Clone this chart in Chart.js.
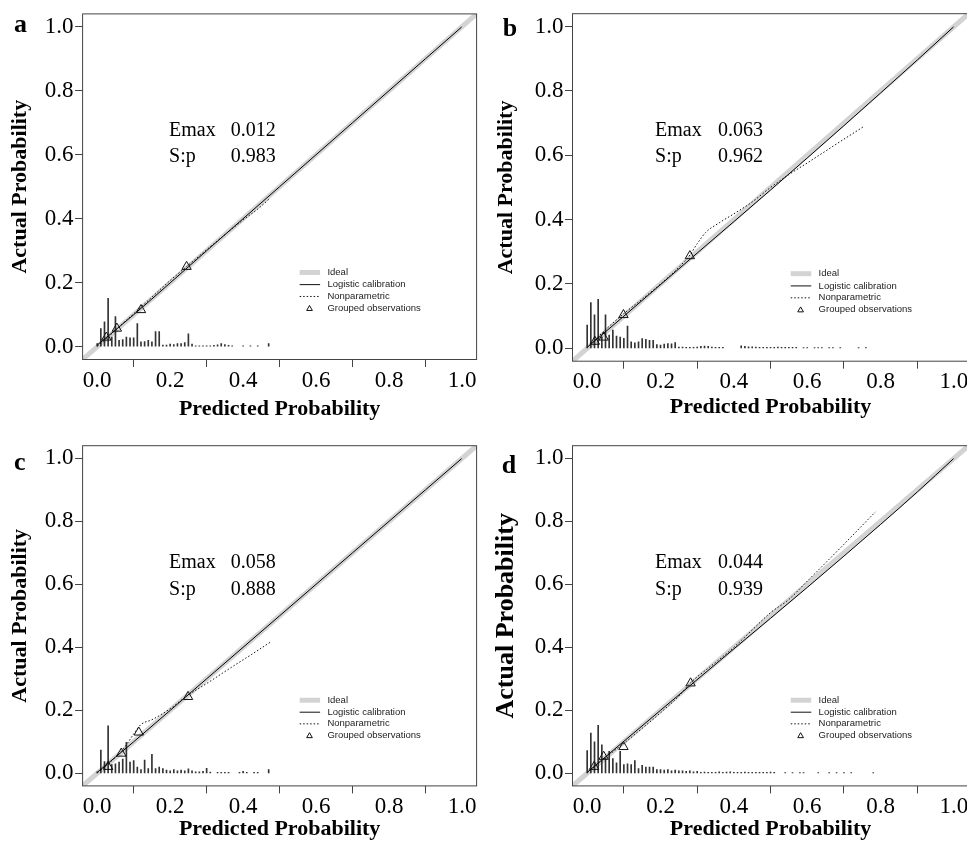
<!DOCTYPE html>
<html>
<head>
<meta charset="utf-8">
<script src="https://cdn.jsdelivr.net/npm/chart.js@4.4.1/dist/chart.umd.min.js"></script>
<style>
  html, body { margin: 0; padding: 0; background: #fff; width: 967px; height: 844px; overflow: hidden; }
  .panel { position: absolute; }
</style>
</head>
<body>
<div class="panel" style="left:0;top:0"><canvas id="pa" width="483" height="422"></canvas></div>
<div class="panel" style="left:483px;top:0"><canvas id="pb" width="492" height="422"></canvas></div>
<div class="panel" style="left:0;top:422px"><canvas id="pc" width="483" height="422"></canvas></div>
<div class="panel" style="left:483px;top:422px"><canvas id="pd" width="492" height="422"></canvas></div>
<script>
// --- données ---
const tickValues = [0, 0.2, 0.4, 0.6, 0.8, 1.0];
const emaxValues = [0.012, 0.063, 0.058, 0.044];
const spValues = [0.983, 0.962, 0.888, 0.939];
const idealLine = [[-0.04, -0.04], [1.04, 1.04]];

// courbes de calibration logistique
const logisticA = [[0.001, 0.006], [0.1, 0.1], [0.3, 0.3], [0.5, 0.5], [0.7, 0.7], [0.9, 0.9], [0.999, 0.999]];
const logisticB = [[0.001, 0.004], [0.1, 0.1], [0.3, 0.296], [0.5, 0.492], [0.7, 0.692], [0.9, 0.896], [0.999, 0.999]];
const logisticC = [[0.001, 0.004], [0.1, 0.1], [0.3, 0.3], [0.5, 0.5], [0.7, 0.7], [0.9, 0.9], [0.999, 0.999]];
const logisticD = [[0.001, 0.004], [0.2, 0.2], [0.4, 0.395], [0.6, 0.59], [0.8, 0.79], [0.9, 0.893], [0.999, 0.999]];

// courbes non paramétriques (pointillés)
const loessA = [[0.001, 0.002], [0.03, 0.03], [0.06, 0.062], [0.1, 0.103], [0.15, 0.155], [0.2, 0.207], [0.25, 0.255], [0.3, 0.303], [0.35, 0.35], [0.4, 0.396], [0.44, 0.43], [0.473, 0.463]];
const loessB = [[0.001, 0.003], [0.05, 0.058], [0.1, 0.108], [0.15, 0.153], [0.2, 0.2], [0.25, 0.252], [0.28, 0.29], [0.3, 0.325], [0.323, 0.36], [0.36, 0.39], [0.4, 0.418], [0.45, 0.455], [0.5, 0.5], [0.55, 0.54], [0.6, 0.576], [0.65, 0.613], [0.7, 0.65], [0.755, 0.69]];
const loessC = [[0.001, 0.002], [0.03, 0.03], [0.065, 0.068], [0.08, 0.09], [0.1, 0.125], [0.12, 0.155], [0.15, 0.17], [0.2, 0.205], [0.245, 0.245], [0.3, 0.285], [0.37, 0.338], [0.42, 0.375], [0.477, 0.418]];
const loessD = [[0.001, 0.002], [0.05, 0.05], [0.1, 0.095], [0.15, 0.143], [0.2, 0.192], [0.25, 0.245], [0.28, 0.285], [0.35, 0.352], [0.4, 0.4], [0.45, 0.455], [0.5, 0.51], [0.55, 0.552], [0.6, 0.61], [0.65, 0.668], [0.7, 0.727], [0.786, 0.83]];

// observations groupées (triangles)
const groupsA = [[0.025, 0.029], [0.054, 0.057], [0.120, 0.115], [0.245, 0.250]];
const groupsB = [[0.021, 0.021], [0.045, 0.034], [0.099, 0.104], [0.280, 0.287]];
const groupsC = [[0.030, 0.021], [0.066, 0.063], [0.114, 0.130], [0.249, 0.243]];
const groupsD = [[0.019, 0.021], [0.045, 0.053], [0.099, 0.084], [0.282, 0.286]];

// histogrammes en pics
const spikeXA = [0.00, 0.01, 0.02, 0.03, 0.04, 0.05, 0.06, 0.07, 0.08, 0.09, 0.10, 0.11, 0.12, 0.13, 0.14, 0.15, 0.16, 0.17, 0.18, 0.19, 0.20, 0.21, 0.22, 0.23, 0.24, 0.25, 0.26, 0.27, 0.28, 0.29, 0.30, 0.31, 0.32, 0.33, 0.34, 0.35, 0.36, 0.37, 0.40, 0.42, 0.44, 0.47];
const spikeHA = [0.010, 0.057, 0.078, 0.151, 0.030, 0.094, 0.020, 0.022, 0.030, 0.028, 0.028, 0.072, 0.015, 0.016, 0.020, 0.015, 0.047, 0.047, 0.005, 0.005, 0.008, 0.007, 0.010, 0.010, 0.013, 0.040, 0.008, 0.003, 0.003, 0.003, 0.003, 0.003, 0.004, 0.006, 0.010, 0.007, 0.004, 0.003, 0.003, 0.003, 0.003, 0.010];

const spikeXB = [0.00, 0.01, 0.02, 0.03, 0.04, 0.05, 0.06, 0.07, 0.08, 0.09, 0.10, 0.11, 0.12, 0.13, 0.14, 0.15, 0.16, 0.17, 0.18, 0.19, 0.20, 0.21, 0.22, 0.23, 0.24,
  0.25, 0.26, 0.27, 0.28, 0.29, 0.30, 0.31, 0.32, 0.33, 0.34, 0.35, 0.36, 0.37,
  0.42, 0.43, 0.44, 0.45, 0.46, 0.47, 0.48, 0.49, 0.50, 0.51, 0.52, 0.53, 0.54, 0.55, 0.56, 0.57,
  0.59, 0.60, 0.62, 0.63, 0.64, 0.66, 0.67, 0.69, 0.74, 0.76];
const spikeHB = [0.072, 0.142, 0.104, 0.152, 0.036, 0.104, 0.041, 0.057, 0.038, 0.035, 0.031, 0.069, 0.020, 0.017, 0.020, 0.030, 0.028, 0.025, 0.025, 0.012, 0.010, 0.013, 0.015, 0.014, 0.018,
  0.004, 0.004, 0.003, 0.003, 0.003, 0.004, 0.006, 0.007, 0.006, 0.004, 0.003, 0.003, 0.003,
  0.008, 0.006, 0.005, 0.005, 0.004, 0.003, 0.003, 0.003, 0.003, 0.003, 0.004, 0.003, 0.003, 0.003, 0.003, 0.003,
  0.002, 0.002, 0.002, 0.002, 0.002, 0.002, 0.002, 0.002, 0.002, 0.002];

const spikeXC = [0.00, 0.01, 0.02, 0.03, 0.04, 0.05, 0.06, 0.07, 0.08, 0.09, 0.10, 0.11, 0.12, 0.13, 0.14, 0.15, 0.16, 0.17, 0.18, 0.19, 0.20, 0.21, 0.22, 0.23, 0.24, 0.25, 0.26, 0.27, 0.28, 0.29, 0.30, 0.31,
  0.33, 0.34, 0.35, 0.36, 0.39, 0.40, 0.41, 0.43, 0.44, 0.47];
const spikeHC = [0.005, 0.074, 0.037, 0.151, 0.028, 0.030, 0.036, 0.045, 0.098, 0.036, 0.040, 0.020, 0.012, 0.042, 0.015, 0.060, 0.015, 0.020, 0.015, 0.010, 0.008, 0.012, 0.008, 0.010, 0.008, 0.014, 0.008, 0.005, 0.005, 0.006, 0.016, 0.004,
  0.003, 0.003, 0.003, 0.003, 0.003, 0.006, 0.003, 0.003, 0.003, 0.012];

const spikeXD = [0.00, 0.01, 0.02, 0.03, 0.04, 0.05, 0.06, 0.07, 0.08, 0.09, 0.10, 0.11, 0.12, 0.13, 0.14, 0.15, 0.16, 0.17, 0.18, 0.19, 0.20, 0.21, 0.22, 0.23, 0.24, 0.25, 0.26, 0.27, 0.28, 0.29, 0.30,
  0.31, 0.32, 0.33, 0.34, 0.35, 0.36, 0.37, 0.38, 0.39, 0.40, 0.41, 0.42, 0.43, 0.44, 0.45, 0.46, 0.47, 0.48, 0.49, 0.50, 0.51,
  0.54, 0.56, 0.58, 0.59, 0.63, 0.66, 0.68, 0.70, 0.72, 0.78];
const spikeHD = [0.072, 0.128, 0.100, 0.152, 0.090, 0.049, 0.070, 0.047, 0.033, 0.070, 0.028, 0.030, 0.028, 0.040, 0.015, 0.025, 0.020, 0.020, 0.020, 0.012, 0.012, 0.010, 0.012, 0.008, 0.010, 0.008, 0.008, 0.006, 0.008, 0.005, 0.006,
  0.003, 0.004, 0.003, 0.003, 0.003, 0.005, 0.003, 0.004, 0.005, 0.003, 0.003, 0.003, 0.004, 0.003, 0.003, 0.003, 0.003, 0.003, 0.003, 0.004, 0.003,
  0.002, 0.002, 0.002, 0.002, 0.002, 0.002, 0.002, 0.002, 0.002, 0.002];

const SERIF = '"Liberation Serif", "Times New Roman", serif';
const SANS = '"Liberation Sans", Arial, sans-serif';
const IDEAL_GREY = '#d3d3d3';

// --- mise en page de chaque panneau (pixels du canvas) ---
const panels = [
  { id: 'pa', letter: 'a', idx: 0, logistic: logisticA, loess: loessA, groups: groupsA, spikeX: spikeXA, spikeH: spikeHA,
    padTop: 13.9, padRight: 2.3, yW: 82.6, xH: 62.5, yTitlePad: 9.1, yTitleSize: 22, xTitlePad: 1.7,
    letterPos: [14, 31.7], statX: [0.197, 0.366], statY: [0.658, 0.578] },
  { id: 'pb', letter: 'b', idx: 1, logistic: logisticB, loess: loessB, groups: groupsB, spikeX: spikeXB, spikeH: spikeHB,
    padTop: 13.7, padRight: 2.9, yW: 89.5, xH: 60.8, yTitlePad: 12.6, yTitleSize: 22, xTitlePad: 3.4,
    letterPos: [19.7, 36], statX: [0.185, 0.357], statY: [0.66, 0.58] },
  { id: 'pc', letter: 'c', idx: 2, logistic: logisticC, loess: loessC, groups: groupsC, spikeX: spikeXC, spikeH: spikeHC,
    padTop: 23.7, padRight: 2.3, yW: 82.6, xH: 58.1, yTitlePad: 9.1, yTitleSize: 22, xTitlePad: 3.7,
    letterPos: [14, 48], statX: [0.197, 0.366], statY: [0.651, 0.566] },
  { id: 'pd', letter: 'd', idx: 3, logistic: logisticD, loess: loessD, groups: groupsD, spikeX: spikeXD, spikeH: spikeHD,
    padTop: 23.7, padRight: 2.9, yW: 89.5, xH: 58.1, yTitlePad: 9.8, yTitleSize: 26, xTitlePad: 3.7,
    letterPos: [18.7, 51], statX: [0.185, 0.357], statY: [0.651, 0.566] }
];

// position de la légende (coordonnées des axes)
const legendRowsY = [0.232, 0.194, 0.157, 0.12];
const legendLabels = ['Ideal', 'Logistic calibration', 'Nonparametric', 'Grouped observations'];

function pts(arr) { return arr.map(p => ({ x: p[0], y: p[1] })); }
function spikes(xs, hs) { return xs.map((x, i) => ({ x: x, y: hs[i] })); }

// cadre, lettre du panneau, Emax / S:p et légende
const panelDecor = {
  id: 'panelDecor',
  afterDraw(chart, args, opts) {
    const { ctx, chartArea: a, scales: { x, y } } = chart;
    ctx.save();
    ctx.strokeStyle = '#444';
    ctx.lineWidth = 1;
    ctx.strokeRect(a.left, a.top, a.right - a.left, a.bottom - a.top);

    ctx.fillStyle = '#000';
    ctx.textAlign = 'left';
    ctx.textBaseline = 'alphabetic';
    ctx.font = 'bold 26px ' + SERIF;
    ctx.fillText(opts.letter, opts.letterPos[0], opts.letterPos[1]);

    ctx.font = '20px ' + SERIF;
    const sx0 = x.getPixelForValue(opts.statX[0]), sx1 = x.getPixelForValue(opts.statX[1]);
    ctx.fillText('Emax', sx0, y.getPixelForValue(opts.statY[0]));
    ctx.fillText(opts.emax.toFixed(3), sx1, y.getPixelForValue(opts.statY[0]));
    ctx.fillText('S:p', sx0, y.getPixelForValue(opts.statY[1]));
    ctx.fillText(opts.sp.toFixed(3), sx1, y.getPixelForValue(opts.statY[1]));

    // légende
    const lx0 = x.getPixelForValue(0.555), lx1 = x.getPixelForValue(0.611);
    const mx = x.getPixelForValue(0.582), tx = x.getPixelForValue(0.631);
    ctx.font = '9.5px ' + SANS;
    ctx.textBaseline = 'middle';
    legendRowsY.forEach((ry, i) => {
      const py = y.getPixelForValue(ry);
      ctx.save();
      if (i === 0) { ctx.strokeStyle = IDEAL_GREY; ctx.lineWidth = 5; }
      else { ctx.strokeStyle = '#111'; ctx.lineWidth = 1; }
      if (i === 2) ctx.setLineDash([1.5, 2]);
      if (i < 3) {
        ctx.beginPath(); ctx.moveTo(lx0, py); ctx.lineTo(lx1, py); ctx.stroke();
      } else {
        ctx.fillStyle = 'rgba(0,0,0,0)';
        Chart.helpers.drawPoint(ctx, { pointStyle: 'triangle', radius: 3.3, borderWidth: 1, rotation: 0 }, mx, py + 0.5);
      }
      ctx.restore();
      ctx.fillStyle = '#222';
      ctx.fillText(legendLabels[i], tx, py);
    });
    ctx.restore();
  }
};

function drawPanel(p) {
  new Chart(document.getElementById(p.id), {
    type: 'scatter',
    data: {
      datasets: [
        { label: 'Grouped observations', data: pts(p.groups), pointStyle: 'triangle', pointRadius: 5.4,
          pointBorderColor: '#111', pointBackgroundColor: 'rgba(0,0,0,0)', pointBorderWidth: 1, showLine: false },
        { label: 'Nonparametric', data: pts(p.loess), showLine: true, borderColor: '#111', borderWidth: 1,
          borderDash: [1.5, 2], pointRadius: 0, cubicInterpolationMode: 'monotone' },
        { label: 'Logistic calibration', data: pts(p.logistic), showLine: true, borderColor: '#000',
          borderWidth: 1, pointRadius: 0, cubicInterpolationMode: 'monotone' },
        { type: 'bar', label: 'Spikes', data: spikes(p.spikeX, p.spikeH), backgroundColor: '#333',
          barThickness: 1, borderWidth: 0 },
        { label: 'Ideal', data: pts(idealLine), showLine: true, borderColor: IDEAL_GREY, borderWidth: 5, pointRadius: 0 }
      ]
    },
    options: {
      responsive: false,
      animation: false,
      layout: { padding: { top: p.padTop, right: p.padRight, left: 0, bottom: 0 } },
      plugins: {
        legend: { display: false },
        tooltip: { enabled: false },
        panelDecor: { letter: p.letter, letterPos: p.letterPos, statX: p.statX, statY: p.statY,
          emax: emaxValues[p.idx], sp: spValues[p.idx] }
      },
      scales: {
        x: {
          type: 'linear', min: -0.04, max: 1.04, offset: false,
          afterBuildTicks: s => { s.ticks = tickValues.map(v => ({ value: v })); },
          afterFit: s => { s.height = p.xH; },
          ticks: { callback: v => v.toFixed(1), color: '#000', padding: 2, maxRotation: 0, autoSkip: false,
            font: { family: SERIF, size: 23, lineHeight: 1 } },
          grid: { drawOnChartArea: false, drawTicks: true, tickLength: 7.5, color: '#444' },
          border: { display: false },
          title: { display: true, text: 'Predicted Probability', color: '#000',
            font: { family: SERIF, size: 22, weight: 'bold', lineHeight: 1 }, padding: { top: 0, bottom: p.xTitlePad } }
        },
        y: {
          type: 'linear', min: -0.04, max: 1.04,
          afterBuildTicks: s => { s.ticks = tickValues.map(v => ({ value: v })); },
          afterFit: s => { s.width = p.yW; },
          ticks: { callback: v => v.toFixed(1), color: '#000', padding: 1.5, autoSkip: false,
            font: { family: SERIF, size: 23, lineHeight: 1 } },
          grid: { drawOnChartArea: false, drawTicks: true, tickLength: 7.5, color: '#444' },
          border: { display: false },
          title: { display: true, text: 'Actual Probability', color: '#000',
            font: { family: SERIF, size: p.yTitleSize, weight: 'bold', lineHeight: 1 }, padding: { top: p.yTitlePad, bottom: 0 } }
        }
      }
    },
    plugins: [panelDecor]
  });
}

panels.forEach(drawPanel);
</script>
</body>
</html>
